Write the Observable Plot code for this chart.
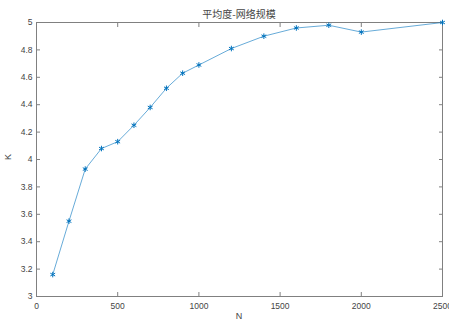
<!DOCTYPE html>
<html>
<head>
<meta charset="utf-8">
<script src="https://cdn.jsdelivr.net/npm/d3@7"></script>
<script src="https://cdn.jsdelivr.net/npm/@observablehq/plot@0.6"></script>
<style>
  html, body { margin: 0; padding: 0; background: #fff; }
  #chart { position: relative; width: 449px; height: 320px; overflow: hidden; }
</style>
</head>
<body>
<div id="chart"></div>
<script>
const title = "平均度-网络规模";
const xLabel = "N";
const yLabel = "K";
const networkSize = [100, 200, 300, 400, 500, 600, 700, 800, 900, 1000, 1200, 1400, 1600, 1800, 2000, 2500];
const avgDegree = [3.16, 3.55, 3.93, 4.08, 4.13, 4.25, 4.38, 4.52, 4.63, 4.69, 4.81, 4.90, 4.96, 4.98, 4.93, 5.00];
const xTicks = [0, 500, 1000, 1500, 2000, 2500];
const yTicks = [3, 3.2, 3.4, 3.6, 3.8, 4, 4.2, 4.4, 4.6, 4.8, 5];

const data = networkSize.map((n, i) => ({n, k: avgDegree[i]}));

const axisColor = "#808080";
const textColor = "#444";
const lineColor = "#0072BD";
const fmt = d => String(d);
const blank = () => "";

const chart = Plot.plot({
  width: 449,
  height: 320,
  marginLeft: 36,
  marginRight: 7,
  marginTop: 22,
  marginBottom: 24,
  style: {fontFamily: "'Liberation Sans', Arial, sans-serif", fontSize: "8.5px", color: textColor, background: "#fff"},
  x: {domain: [0, 2500]},
  y: {domain: [3, 5]},
  marks: [
    Plot.frame({stroke: axisColor, strokeWidth: 1}),
    // inward tick marks on all sides (MATLAB box style)
    Plot.axisX({ticks: xTicks, anchor: "bottom", tickSize: 4, dy: -4, tickFormat: blank, label: null, stroke: axisColor}),
    Plot.axisX({ticks: xTicks, anchor: "top", tickSize: 4, dy: 4, tickFormat: blank, label: null, stroke: axisColor}),
    Plot.axisY({ticks: yTicks, anchor: "left", tickSize: 4, dx: 4, tickFormat: blank, label: null, stroke: axisColor}),
    Plot.axisY({ticks: yTicks, anchor: "right", tickSize: 4, dx: -4, tickFormat: blank, label: null, stroke: axisColor}),
    // tick labels
    Plot.axisX({ticks: xTicks, anchor: "bottom", tickSize: 0, tickPadding: 6, tickFormat: fmt, label: null, fill: textColor}),
    Plot.axisY({ticks: yTicks, anchor: "left", tickSize: 0, tickPadding: 4, tickFormat: fmt, label: null, fill: textColor}),
    Plot.line(data, {x: "n", y: "k", stroke: lineColor, strokeWidth: 0.8, strokeOpacity: 0.75}),
    Plot.dot(data, {x: "n", y: "k", symbol: "asterisk", r: 2.6, stroke: lineColor, strokeWidth: 1})
  ]
});

const host = document.getElementById("chart");
host.appendChild(chart);

function addText(txt, css) {
  const d = document.createElement("div");
  d.textContent = txt;
  d.style.position = "absolute";
  d.style.whiteSpace = "nowrap";
  Object.assign(d.style, css);
  host.appendChild(d);
  return d;
}
addText(title, {left: "239px", top: "8px", transform: "translateX(-50%)", fontFamily: "'Noto Sans CJK SC', sans-serif", fontSize: "10px", color: "#444", lineHeight: "12px"});
addText(xLabel, {left: "239px", top: "311px", transform: "translateX(-50%)", fontFamily: "'Liberation Sans', Arial, sans-serif", fontSize: "9px", color: "#444", lineHeight: "10px"});
addText(yLabel, {left: "8px", top: "157px", transform: "translate(-50%, -50%) rotate(-90deg)", fontFamily: "'Liberation Sans', Arial, sans-serif", fontSize: "9px", color: "#444", lineHeight: "10px"});
</script>
</body>
</html>
